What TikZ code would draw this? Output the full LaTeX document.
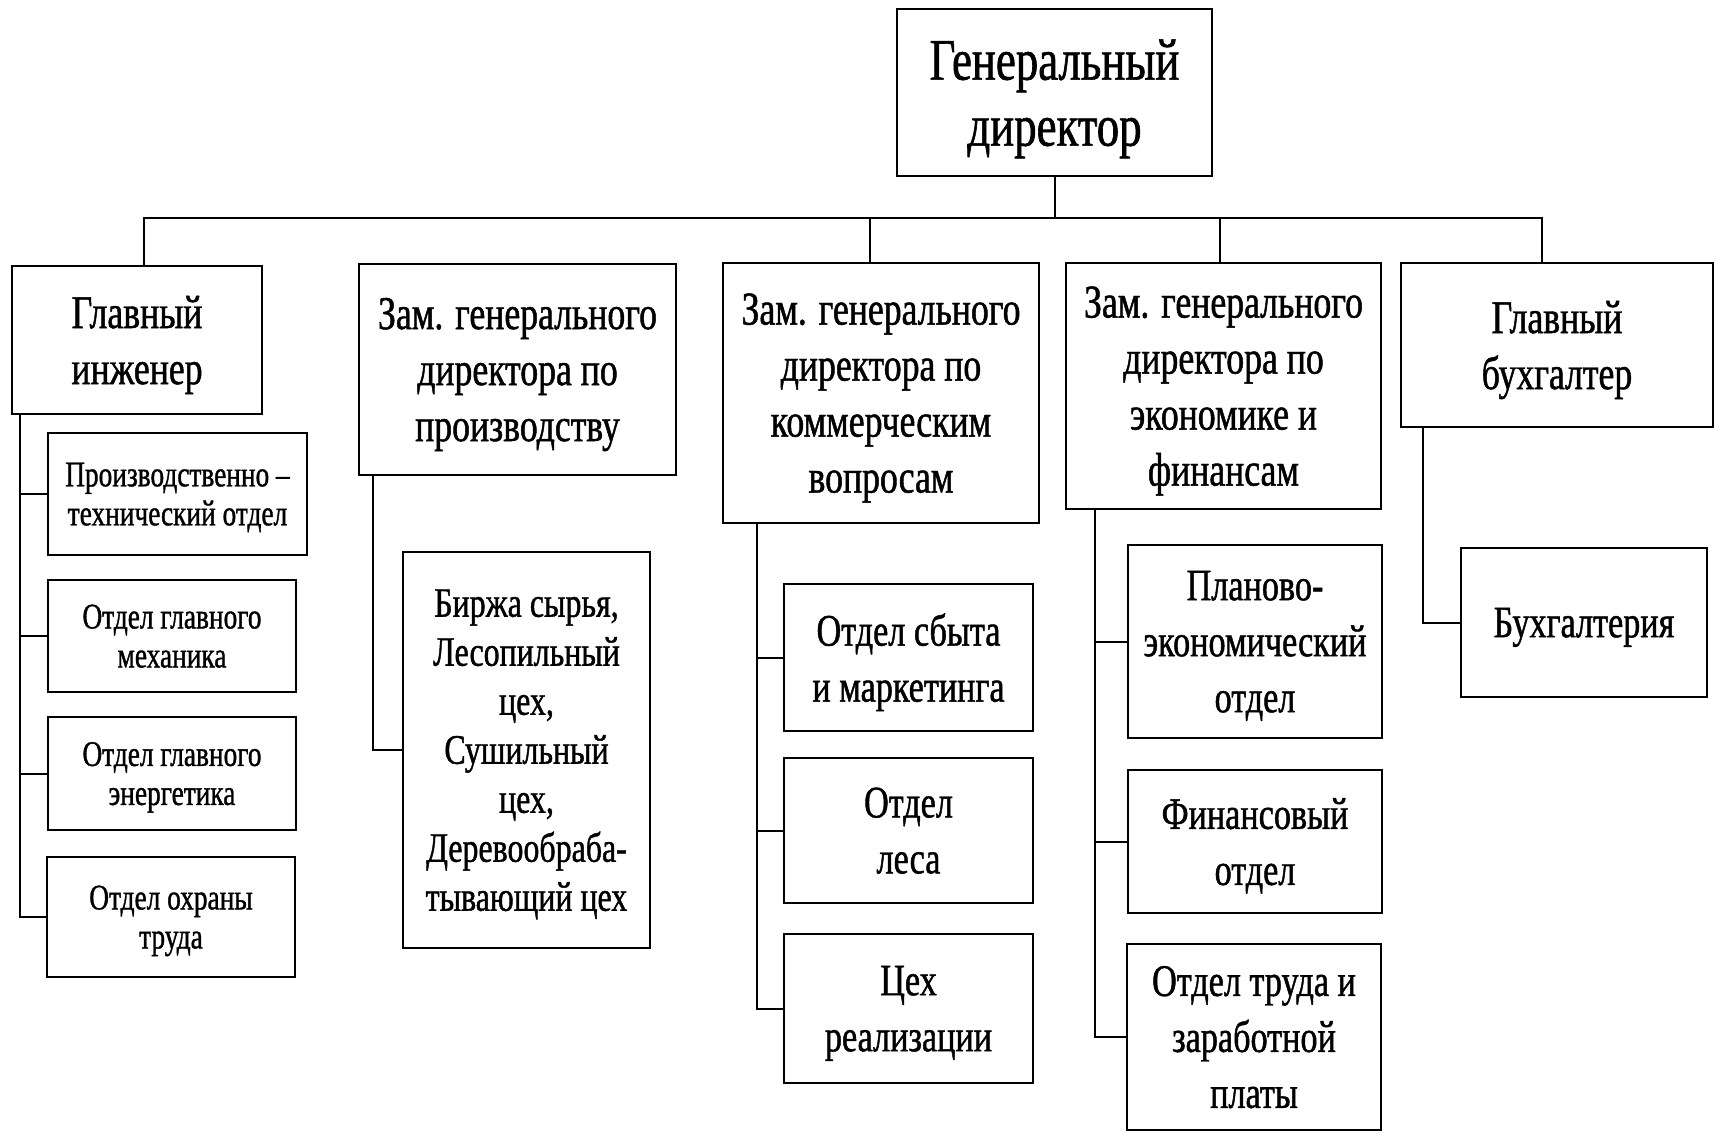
\documentclass[tikz,border=0pt]{standalone}
\usepackage{fontspec}
\setmainfont[FakeStretch=0.76, FakeBold=1]{Liberation Serif}
\begin{document}
\begin{tikzpicture}[x=0.5pt, y=-0.5pt,
  box/.style={draw, line width=1.4pt, inner sep=0pt, align=center, text depth=0pt},
  sz/.style 2 args={minimum width=#1*0.5pt, minimum height=#2*0.5pt},
  link/.style={line width=1pt},
  fbig/.style={font=\fontsize{29.5}{33}\selectfont},
  fmid/.style={font=\fontsize{23.5}{28}\selectfont},
  fsub/.style={font=\fontsize{22.5}{28}\selectfont},
  flist/.style={font=\fontsize{21}{24.5}\selectfont},
  fsmall/.style={font=\fontsize{18}{19.5}\selectfont}]
\useasboundingbox (0,0) rectangle (1719,1134);

\node[box, fbig, sz={315}{167}] (gd) at (1054.5,92.5) {Генеральный\\директор};

\node[box, fmid, sz={250}{148}] (gi) at (137,340) {Главный\\инженер};
\node[box, fmid, sz={317}{211}] (zp) at (517.5,369.5) {Зам. генерального\\директора по\\производству};
\node[box, fmid, sz={316}{260}] (zk) at (881,393) {Зам. генерального\\директора по\\коммерческим\\вопросам};
\node[box, fmid, sz={315}{246}] (ze) at (1223.5,386) {Зам. генерального\\директора по\\экономике и\\финансам};
\node[box, fmid, sz={312}{164}] (gb) at (1557,345) {Главный\\бухгалтер};

\node[box, fsmall, sz={259}{122}] (pto) at (177.5,494) {Производственно –\\технический отдел};
\node[box, fsmall, sz={248}{112}] (ogm) at (172,636) {Отдел главного\\механика};
\node[box, fsmall, sz={248}{113}] (oge) at (172,773.5) {Отдел главного\\энергетика};
\node[box, fsmall, sz={248}{120}] (oot) at (171,917) {Отдел охраны\\труда};

\node[box, flist, sz={247}{396}] (birzha) at (526.5,750) {Биржа сырья,\\Лесопильный\\цех,\\Сушильный\\цех,\\Деревообраба-\\тывающий цех};

\node[box, fsub, sz={249}{147}] (sbyt) at (908.5,657.5) {Отдел сбыта\\и маркетинга};
\node[box, fsub, sz={249}{145}] (les) at (908.5,830.5) {Отдел\\леса};
\node[box, fsub, sz={249}{149}] (ceh) at (908.5,1008.5) {Цех\\реализации};

\node[box, fsub, sz={254}{193}] (plan) at (1255,641.5) {Планово-\\экономический\\отдел};
\node[box, fsub, sz={254}{143}] (fin) at (1255,841.5) {Финансовый\\отдел};
\node[box, fsub, sz={254}{186}] (trud) at (1254,1037) {Отдел труда и\\заработной\\платы};

\node[box, fsub, sz={246}{149}] (buh) at (1584,622.5) {Бухгалтерия};

\coordinate (d1) at (144,218);
\coordinate (d3) at (870,218);
\coordinate (d4) at (1220,218);
\coordinate (d5) at (1542,218);
\draw[link] (gd.south) -- (gd.south |- d1);
\draw[link] (d1 |- gi.north) -- (d1) -- (d5) -- (d5 |- gb.north);
\draw[link] (d3) -- (d3 |- zk.north);
\draw[link] (d4) -- (d4 |- ze.north);

\coordinate (t1) at (20,0);
\coordinate (t2) at (373,0);
\coordinate (t3) at (757,0);
\coordinate (t4) at (1095,0);
\coordinate (t5) at (1423,0);
\draw[link] (t1 |- gi.south) |- (oot.west);
\foreach \s in {pto,ogm,oge}
  \draw[link] (t1 |- \s.west) -- (\s.west);
\draw[link] (t2 |- zp.south) |- (birzha.west);
\draw[link] (t3 |- zk.south) |- (ceh.west);
\foreach \s in {sbyt,les}
  \draw[link] (t3 |- \s.west) -- (\s.west);
\draw[link] (t4 |- ze.south) |- (trud.west);
\foreach \s in {plan,fin}
  \draw[link] (t4 |- \s.west) -- (\s.west);
\draw[link] (t5 |- gb.south) |- (buh.west);
\end{tikzpicture}
\end{document}
